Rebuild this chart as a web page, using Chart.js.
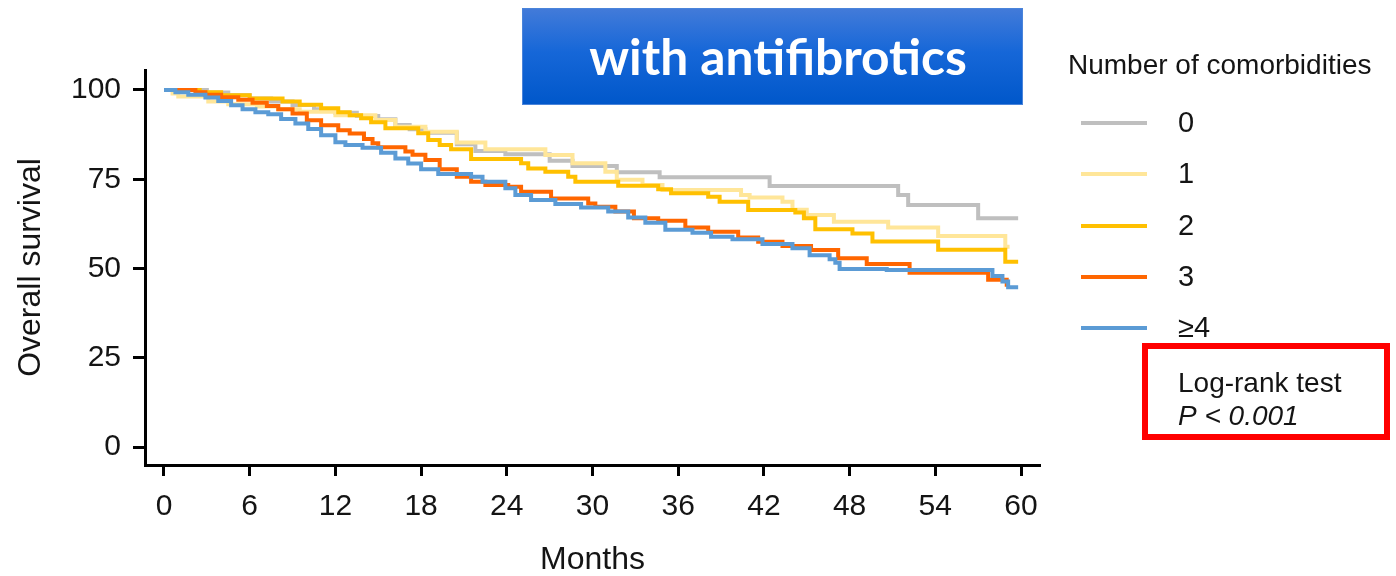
<!DOCTYPE html>
<html>
<head>
<meta charset="utf-8">
<script src="https://cdn.jsdelivr.net/npm/chart.js@4.4.1/dist/chart.umd.min.js"></script>
<style>
  html, body { margin: 0; padding: 0; background: #ffffff; }
  #wrap { position: relative; width: 1396px; height: 576px; overflow: hidden; }
  #km { position: absolute; left: 0; top: 0; }
</style>
</head>
<body>
<div id="wrap"><canvas id="km" width="1396" height="576"></canvas></div>
<script>
// Kaplan-Meier estimates: event times (months) and survival (%) after each step
const groupLabels = ['0', '1', '2', '3', '\u22654'];
const groupColors = ['#BFBFBF', '#FFE699', '#FFC000', '#FF6600', '#5B9BD5'];

const months0 = [0, 3.0, 4.5, 6.0, 7.5, 9.0, 10.5, 12.0, 13.5, 15.0, 16.2, 17.2, 18.3, 20.5, 21.8, 23.9, 27.0, 28.6, 31.7, 34.7, 42.4, 51.4, 52.1, 57.0, 59.8];
const surv0   = [100, 99.3, 98.5, 97.6, 96.8, 95.8, 94.6, 93.6, 92.7, 91.8, 90.2, 89.0, 88.0, 84.8, 82.9, 82.0, 80.2, 78.7, 77.0, 75.6, 73.1, 70.6, 67.8, 64.1, 64.1];

const months1 = [0, 0.6, 1.0, 3.1, 4.5, 6.5, 8.0, 9.5, 12.0, 14.8, 16.2, 18.3, 20.5, 22.5, 26.7, 28.6, 30.9, 31.7, 33.5, 34.9, 40.4, 41.0, 43.3, 44.0, 45.0, 46.9, 50.7, 54.2, 58.9, 59.2];
const surv1   = [100, 99.0, 98.2, 96.8, 96.0, 95.4, 94.6, 93.9, 92.9, 91.6, 89.7, 88.3, 85.3, 83.4, 81.8, 79.5, 77.1, 74.9, 73.4, 72.0, 70.6, 69.9, 68.7, 66.5, 65.0, 63.1, 61.5, 59.1, 56.1, 56.1];

const months2 = [0, 2.5, 4.0, 6.0, 8.3, 9.5, 11.0, 12.2, 13.0, 13.8, 14.5, 15.5, 17.8, 18.5, 19.3, 20.1, 21.5, 25.0, 25.5, 26.7, 28.3, 28.8, 31.8, 34.6, 35.5, 38.1, 38.9, 40.9, 44.2, 44.8, 45.6, 48.2, 49.6, 54.2, 58.9, 59.8];
const surv2   = [100, 99.4, 98.5, 97.6, 96.8, 95.9, 94.9, 93.8, 92.9, 92.1, 91.0, 89.3, 87.9, 86.0, 84.6, 83.4, 80.7, 79.5, 78.0, 77.1, 75.7, 74.3, 73.2, 72.2, 71.1, 70.1, 68.7, 66.4, 65.7, 64.1, 61.0, 59.8, 57.6, 55.3, 51.9, 51.9];

const months3 = [0, 2.2, 2.9, 4.0, 5.2, 6.2, 7.2, 8.0, 9.0, 10.0, 11.0, 12.2, 13.0, 14.0, 14.6, 15.0, 16.9, 17.4, 18.3, 19.3, 20.5, 21.5, 22.5, 24.1, 25.0, 27.1, 29.7, 30.2, 31.6, 32.9, 34.6, 36.5, 38.1, 40.2, 41.6, 43.3, 45.3, 47.2, 49.2, 52.2, 57.7, 59.0, 59.1];
const surv3   = [100, 99.4, 98.7, 98.0, 97.3, 96.4, 95.5, 94.6, 93.4, 91.5, 90.1, 88.7, 87.8, 86.3, 85.1, 84.0, 82.8, 81.9, 80.4, 77.8, 75.7, 74.3, 73.4, 72.9, 71.5, 69.6, 68.2, 67.3, 66.0, 64.1, 63.4, 61.5, 60.3, 58.7, 57.5, 56.3, 55.2, 52.9, 51.3, 48.8, 46.9, 45.5, 45.5];

const months4 = [0, 0.8, 1.7, 2.9, 3.8, 4.7, 5.5, 6.4, 7.3, 8.2, 9.2, 10.1, 11.0, 12.0, 12.7, 13.9, 15.2, 16.2, 17.1, 18.0, 19.2, 21.5, 22.3, 23.9, 24.6, 25.7, 27.4, 29.2, 31.1, 32.5, 33.7, 35.1, 37.0, 38.3, 39.8, 41.9, 44.0, 45.2, 46.6, 47.0, 47.3, 50.6, 58.0, 58.7, 59.1, 59.8];
const surv4   = [100, 99.4, 98.7, 97.9, 96.9, 95.7, 94.6, 93.8, 93.2, 91.9, 90.6, 89.1, 87.3, 85.4, 84.6, 83.8, 82.4, 80.8, 79.4, 77.8, 76.5, 75.7, 74.3, 72.5, 70.6, 69.2, 68.1, 67.1, 66.0, 64.3, 62.8, 60.9, 60.0, 58.9, 58.2, 56.9, 55.7, 53.7, 52.6, 51.6, 49.9, 49.6, 47.9, 46.4, 44.8, 44.8];

const xTicks = [0, 6, 12, 18, 24, 30, 36, 42, 48, 54, 60];
const yTicks = [0, 25, 50, 75, 100];

const titleText = 'with antifibrotics';
const legendTitle = 'Number of comorbidities';
const testLines = ['Log-rank test', 'P < 0.001'];

const allMonths = [months0, months1, months2, months3, months4];
const allSurv = [surv0, surv1, surv2, surv3, surv4];

const FONT = "'Liberation Sans', Arial, sans-serif";
const INK = '#141414';

const datasets = allMonths.map((ms, i) => ({
  label: groupLabels[i],
  data: ms.map((m, j) => ({ x: m, y: allSurv[i][j] })),
  borderColor: groupColors[i],
  backgroundColor: groupColors[i],
  borderWidth: 4,
  pointRadius: 0,
  pointHoverRadius: 0,
  stepped: true,
  tension: 0,
  fill: false,
  order: 5 - i
}));

// Banner, legend and test annotation drawn around the plot
const decorations = {
  id: 'decorations',
  afterDraw(chart) {
    const ctx = chart.ctx;
    ctx.save();

    // blue banner
    const bx = 522, by = 8, bw = 501, bh = 97;
    const g = ctx.createLinearGradient(0, by, 0, by + bh);
    g.addColorStop(0, '#437BD9');
    g.addColorStop(0.45, '#1667D8');
    g.addColorStop(1, '#0057CA');
    ctx.fillStyle = g;
    ctx.fillRect(bx, by, bw, bh);
    ctx.strokeStyle = '#4A84DA';
    ctx.lineWidth = 1;
    ctx.strokeRect(bx + 0.5, by + 0.5, bw - 1, bh - 1);
    ctx.font = "bold 48px Lato, 'Open Sans', sans-serif";
    const w48 = ctx.measureText(titleText).width;
    const fs = 48 * 378 / w48;
    ctx.font = `bold ${fs.toFixed(1)}px Lato, 'Open Sans', sans-serif`;
    ctx.fillStyle = '#FFFFFF';
    ctx.textAlign = 'center';
    ctx.textBaseline = 'alphabetic';
    ctx.fillText(titleText, 778, 75);

    // legend
    ctx.textAlign = 'left';
    ctx.textBaseline = 'middle';
    ctx.fillStyle = INK;
    ctx.font = `28px ${FONT}`;
    ctx.fillText(legendTitle, 1068, 66);
    const rowY = [123, 174, 226, 277, 328];
    ctx.font = `29px ${FONT}`;
    groupLabels.forEach((lab, i) => {
      ctx.strokeStyle = groupColors[i];
      ctx.lineWidth = 4;
      ctx.beginPath();
      ctx.moveTo(1081, rowY[i]);
      ctx.lineTo(1147, rowY[i]);
      ctx.stroke();
      ctx.fillStyle = INK;
      ctx.fillText(lab, 1178, rowY[i] + 1);
    });

    // log-rank annotation box
    ctx.strokeStyle = '#FF0000';
    ctx.lineWidth = 6;
    ctx.strokeRect(1145, 346, 242, 91);
    ctx.fillStyle = INK;
    ctx.font = `28px ${FONT}`;
    ctx.fillText(testLines[0], 1178, 384);
    ctx.font = `italic 28px ${FONT}`;
    ctx.fillText(testLines[1], 1178, 417);

    ctx.restore();
  }
};

new Chart(document.getElementById('km'), {
  type: 'line',
  data: { datasets },
  plugins: [decorations],
  options: {
    responsive: false,
    animation: false,
    devicePixelRatio: 1,
    layout: { padding: { left: 0, top: 70, right: 356, bottom: 0 } },
    plugins: {
      legend: { display: false },
      tooltip: { enabled: false },
      title: { display: false }
    },
    scales: {
      x: {
        type: 'linear',
        min: -1.33,
        max: 61.33,
        afterBuildTicks: (s) => { s.ticks = xTicks.map(v => ({ value: v })); },
        afterFit: (s) => { s.height = 111; },
        ticks: {
          autoSkip: false,
          maxRotation: 0,
          padding: 13,
          color: INK,
          font: { family: FONT, size: 30 },
          callback: (v) => String(v)
        },
        grid: {
          display: true,
          drawOnChartArea: false,
          drawTicks: true,
          tickLength: 11,
          tickWidth: 3,
          tickColor: '#000'
        },
        border: { display: true, color: '#000', width: 3 },
        title: {
          display: true,
          text: 'Months',
          color: INK,
          font: { family: FONT, size: 32 },
          padding: { top: 0, bottom: -3 }
        }
      },
      y: {
        type: 'linear',
        min: -5,
        max: 105.6,
        afterBuildTicks: (s) => { s.ticks = yTicks.map(v => ({ value: v })); },
        afterFit: (s) => { s.width = 145; },
        ticks: {
          autoSkip: false,
          padding: 12,
          color: INK,
          font: { family: FONT, size: 30 },
          callback: (v) => String(v)
        },
        grid: {
          display: true,
          drawOnChartArea: false,
          drawTicks: true,
          tickLength: 12,
          tickWidth: 3,
          tickColor: '#000'
        },
        border: { display: true, color: '#000', width: 3 },
        title: {
          display: true,
          text: 'Overall survival',
          color: INK,
          font: { family: FONT, size: 32 },
          padding: { top: 12, bottom: 0 }
        }
      }
    }
  }
});
</script>
</body>
</html>
